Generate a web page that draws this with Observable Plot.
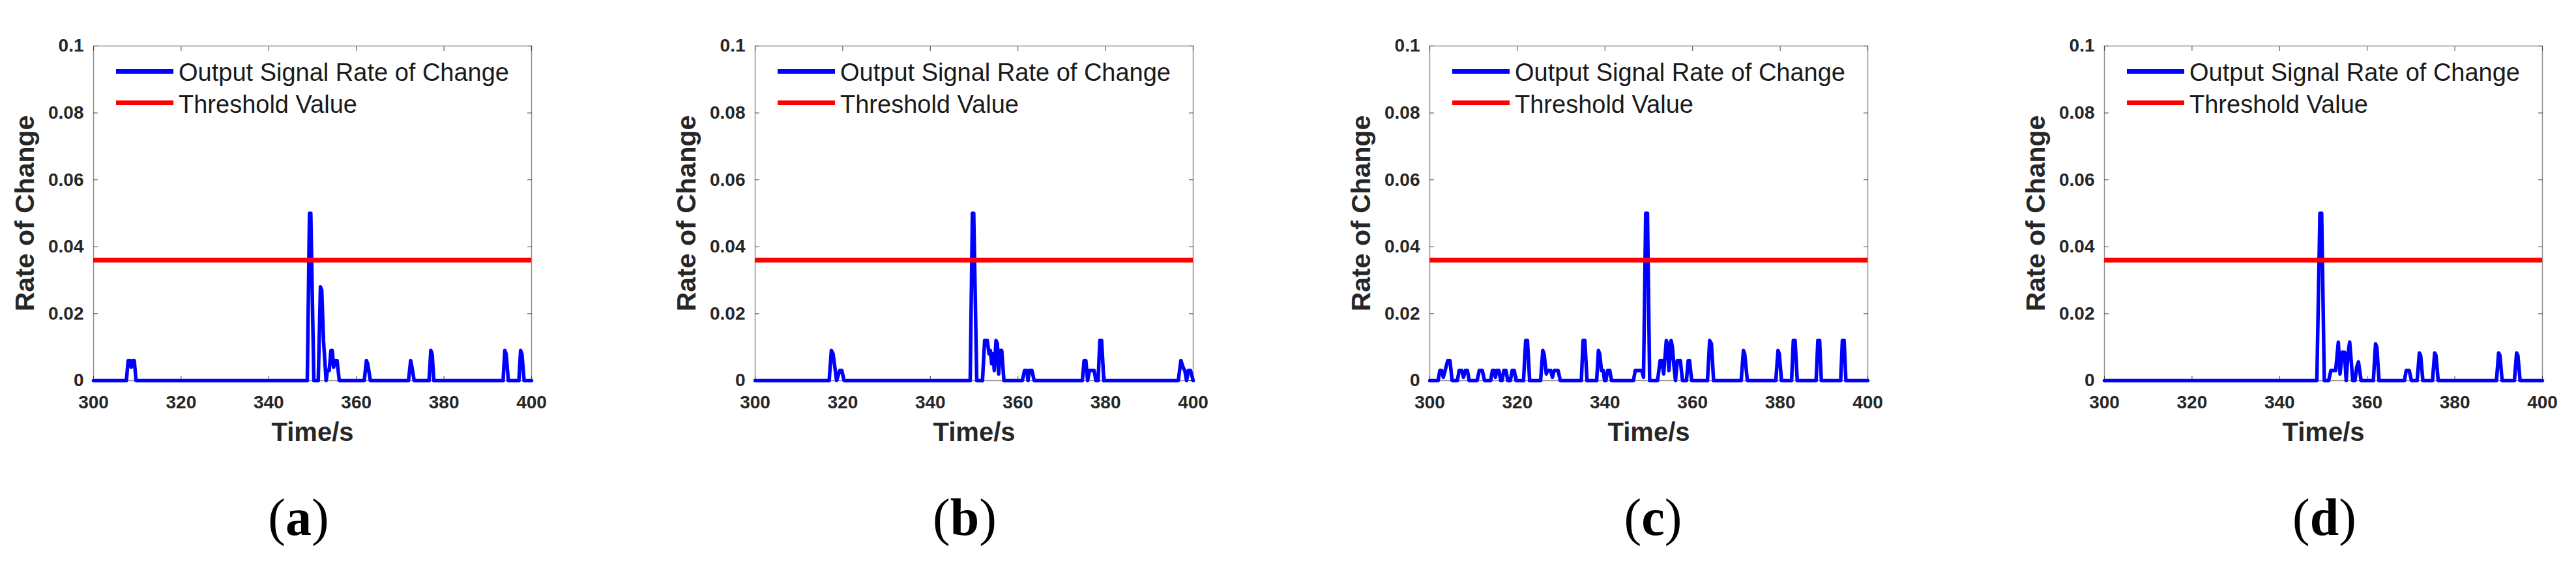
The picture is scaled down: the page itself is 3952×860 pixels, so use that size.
<!DOCTYPE html>
<html><head><meta charset="utf-8">
<script src="https://cdn.jsdelivr.net/npm/d3@7"></script>
<script src="https://cdn.jsdelivr.net/npm/@observablehq/plot@0.6"></script>
<style>
html,body{margin:0;padding:0;background:#fff;}
#root{position:relative;width:3952px;height:860px;overflow:hidden;background:#fff;font-family:"Liberation Sans",Arial,sans-serif;}
.leg-line{position:absolute;}
.leg-text{position:absolute;font-size:38px;line-height:38px;color:#1a1a1a;white-space:nowrap;}
.cap{position:absolute;top:753px;font-family:"Liberation Serif",serif;font-size:80px;line-height:80px;color:#000;transform:translateX(-50%);white-space:nowrap;}
.cap b{font-weight:bold;}
</style></head><body><div id="root"></div>
<script>
// ---------- data ----------
const panelLabels = ["a", "b", "c", "d"];
const seriesNames = ["Output Signal Rate of Change", "Threshold Value"];
const xLabel = "Time/s";
const yLabel = "Rate of Change";
const xTicks = [300, 320, 340, 360, 380, 400];
const xTickLabels = ["300", "320", "340", "360", "380", "400"];
const yTicks = [0, 0.02, 0.04, 0.06, 0.08, 0.1];
const yTickLabels = ["0", "0.02", "0.04", "0.06", "0.08", "0.1"];
const threshold = 0.036;

// panel (a)
const timeA = [300,
  307.5, 307.9, 308.3, 308.6, 308.9, 309.3, 309.7,
  348.8, 349.3, 349.6, 350.3,
  351.3, 351.8, 352.1, 352.5, 352.8, 353.1, 353.4, 353.8, 354.2, 354.5, 354.8, 355.2, 355.6, 356.1,
  361.8, 362.3, 362.6, 363.2,
  371.9, 372.4, 372.7, 373.2,
  376.6, 377.0, 377.3, 377.7,
  393.5, 393.9, 394.2, 394.7,
  397.1, 397.5, 397.8, 398.3,
  400];
const rateA = [0,
  0, 0.006, 0.006, 0.004, 0.006, 0.006, 0,
  0, 0.050, 0.050, 0,
  0, 0.028, 0.027, 0.012, 0.006, 0, 0.003, 0.003, 0.009, 0.009, 0.004, 0.006, 0.006, 0,
  0, 0.006, 0.005, 0,
  0, 0.006, 0.004, 0,
  0, 0.009, 0.008, 0,
  0, 0.009, 0.008, 0,
  0, 0.009, 0.008, 0,
  0];

// panel (b)
const timeB = [300,
  316.9, 317.4, 317.8, 318.2, 318.6, 319.3, 319.8, 320.3,
  349.1, 349.6, 349.9, 350.6,
  351.9, 352.4, 353.0, 353.4, 353.7, 354.0, 354.3, 354.6, 355.0, 355.3, 355.6, 355.9, 356.3, 356.8,
  361.0, 361.5, 362.0, 362.3, 362.6, 363.2, 363.7,
  374.7, 375.1, 375.5, 375.9, 376.3, 377.4, 377.8,
  378.3, 378.7, 379.1, 379.6,
  396.6, 397.2, 397.7, 398.1, 398.5, 398.9, 399.4,
  400];
const rateB = [0,
  0, 0.009, 0.008, 0.004, 0, 0.003, 0.003, 0,
  0, 0.050, 0.050, 0,
  0, 0.012, 0.012, 0.008, 0.009, 0.005, 0.008, 0.003, 0.012, 0.011, 0.002, 0.009, 0.009, 0,
  0, 0.003, 0.003, 0, 0.003, 0.003, 0,
  0, 0.006, 0.006, 0, 0.003, 0.003, 0,
  0, 0.012, 0.012, 0,
  0, 0.006, 0.004, 0.003, 0, 0.003, 0.003,
  0];

// panel (c)
const timeC = [300,
  301.9, 302.3, 302.7, 303.1, 303.5, 304.1, 304.6, 305.1,
  306.3, 306.7, 307.3, 307.7, 308.1, 308.6, 309.0,
  310.8, 311.3, 312.0, 312.5,
  313.9, 314.3, 314.7, 315.0, 315.3, 315.8, 316.2,
  316.5, 316.9, 317.4, 317.8,
  318.4, 318.8, 319.3, 319.7,
  321.4, 321.9, 322.3, 322.8,
  325.3, 325.8, 326.1, 326.6, 326.9, 327.6, 328.0, 328.4, 329.3, 329.8,
  334.6, 335.0, 335.4, 335.9,
  338.1, 338.5, 338.8, 339.2, 339.6, 339.9, 340.2, 340.6, 341.1, 341.5,
  346.5, 346.9, 348.4, 348.8, 349.3, 349.7, 350.2,
  352.0, 352.6, 353.0, 353.4, 354.0, 354.3, 354.6, 355.1, 355.4, 355.7, 356.1, 356.5, 357.2, 357.7,
  358.6, 359.0, 359.3, 359.8,
  363.4, 363.9, 364.3, 364.8,
  371.1, 371.6, 371.9, 372.5,
  379.0, 379.5, 379.8, 380.3,
  382.6, 383.0, 383.4, 383.9,
  388.2, 388.6, 389.0, 389.4,
  393.8, 394.2, 394.6, 395.0,
  400];
const rateC = [0,
  0, 0.003, 0.003, 0.001, 0.003, 0.006, 0.006, 0,
  0, 0.003, 0.003, 0.001, 0.003, 0.003, 0,
  0, 0.003, 0.003, 0,
  0, 0.003, 0.003, 0.001, 0.003, 0.003, 0,
  0, 0.003, 0.003, 0,
  0, 0.003, 0.003, 0,
  0, 0.012, 0.012, 0,
  0, 0.009, 0.008, 0.002, 0.003, 0.003, 0.001, 0.003, 0.003, 0,
  0, 0.012, 0.012, 0,
  0, 0.009, 0.008, 0.003, 0.003, 0, 0, 0.003, 0.003, 0,
  0, 0.003, 0.003, 0.001, 0.050, 0.050, 0,
  0, 0.006, 0.006, 0.002, 0.012, 0.011, 0.003, 0.012, 0.010, 0.005, 0, 0.006, 0.006, 0,
  0, 0.006, 0.006, 0,
  0, 0.012, 0.011, 0,
  0, 0.009, 0.008, 0,
  0, 0.009, 0.008, 0,
  0, 0.012, 0.012, 0,
  0, 0.012, 0.012, 0,
  0, 0.012, 0.012, 0,
  0];

// panel (d)
const timeD = [300,
  348.5, 349.2, 349.6, 350.2,
  351.2, 351.7, 352.8, 353.4, 353.8, 354.3, 354.8, 355.2, 355.6, 356.0, 356.7,
  357.2, 357.6, 358.0, 358.6,
  361.4, 361.9, 362.2, 362.7,
  368.5, 368.9, 369.6, 370.1,
  371.4, 371.9, 372.2, 372.7,
  374.9, 375.4, 375.7, 376.2,
  389.5, 390.0, 390.3, 390.8,
  393.6, 394.1, 394.4, 394.9,
  400];
const rateD = [0,
  0, 0.050, 0.050, 0,
  0, 0.003, 0.003, 0.0115, 0.002, 0.0085, 0.0085, 0, 0.008, 0.0115, 0,
  0, 0.004, 0.0056, 0,
  0, 0.011, 0.010, 0,
  0, 0.003, 0.003, 0,
  0, 0.0083, 0.0075, 0,
  0, 0.0083, 0.0075, 0,
  0, 0.0083, 0.0075, 0,
  0, 0.0083, 0.0075, 0,
  0];

// ---------- layout ----------
const series = [[timeA, rateA], [timeB, rateB], [timeC, rateC], [timeD, rateD]];
const frameLefts = [143, 1158, 2193, 3228];
const captionCenters = [458, 1480, 2536, 3566];
const ML = 143, MR = 30, MT = 70, MB = 277, FW = 672, H = 860;
const FONT = '"Liberation Sans", Arial, sans-serif';
const root = document.getElementById("root");

series.forEach(([t, v], i) => {
  const n = Math.min(t.length, v.length);
  const rows = d3.range(n).map(k => ({t: t[k], v: v[k]}));
  const svg = Plot.plot({
    width: ML + FW + MR, height: H,
    marginLeft: ML, marginRight: MR, marginTop: MT, marginBottom: MB,
    x: {domain: [300, 400]},
    y: {domain: [0, 0.1]},
    style: {fontFamily: FONT, background: "transparent", overflow: "visible"},
    marks: [
      Plot.frame({stroke: "#8f8f8f", strokeWidth: 1.5}),
      Plot.axisX({ticks: xTicks, tickSize: -7, tickPadding: 30, stroke: "#404040", fill: "#262626",
        tickFormat: d => xTickLabels[xTicks.indexOf(d)], fontSize: 28, fontWeight: "bold", label: null}),
      Plot.axisX({anchor: "top", ticks: xTicks, tickSize: -7, stroke: "#404040", tickFormat: () => "", label: null}),
      Plot.axisY({ticks: yTicks, tickSize: -7, tickPadding: 22, stroke: "#404040", fill: "#262626",
        tickFormat: d => yTickLabels[yTicks.indexOf(d)], fontSize: 28, fontWeight: "bold", label: null}),
      Plot.axisY({anchor: "right", ticks: yTicks, tickSize: -7, stroke: "#404040", tickFormat: () => "", label: null}),
      Plot.line(rows, {x: "t", y: "v", stroke: "#0000ff", strokeWidth: 5.5, strokeLinejoin: "round", strokeLinecap: "round"}),
      Plot.ruleY([threshold], {stroke: "#ff0000", strokeWidth: 7.5}),
      Plot.text([yLabel], {text: d => d, frameAnchor: "left", textAnchor: "middle", lineAnchor: "middle",
        dx: -105, rotate: -90, fontSize: 41, fontWeight: "bold", fill: "#262626"}),
      Plot.text([xLabel], {text: d => d, frameAnchor: "bottom", textAnchor: "middle", lineAnchor: "middle",
        dy: 80, fontSize: 40, fontWeight: "bold", fill: "#262626"})
    ]
  });
  svg.style.position = "absolute";
  svg.style.left = (frameLefts[i] - ML) + "px";
  svg.style.top = "0px";
  root.appendChild(svg);

  // legend (inside the axes, top-left)
  const FL = frameLefts[i];
  const legColors = ["#0000ff", "#ff0000"];
  const legY = [109, 157];
  const legTextTop = [92, 141];
  seriesNames.forEach((name, j) => {
    const ln = document.createElement("div");
    ln.className = "leg-line";
    ln.style.left = (FL + 35) + "px";
    ln.style.width = "88px";
    ln.style.top = (legY[j] - 3.5) + "px";
    ln.style.height = "7px";
    ln.style.background = legColors[j];
    root.appendChild(ln);
    const tx = document.createElement("div");
    tx.className = "leg-text";
    tx.style.left = (FL + 131) + "px";
    tx.style.top = legTextTop[j] + "px";
    tx.textContent = name;
    root.appendChild(tx);
  });

  // panel caption
  const cap = document.createElement("div");
  cap.className = "cap";
  cap.style.left = captionCenters[i] + "px";
  cap.innerHTML = "(<b>" + panelLabels[i] + "</b>)";
  root.appendChild(cap);
});
</script></body></html>
